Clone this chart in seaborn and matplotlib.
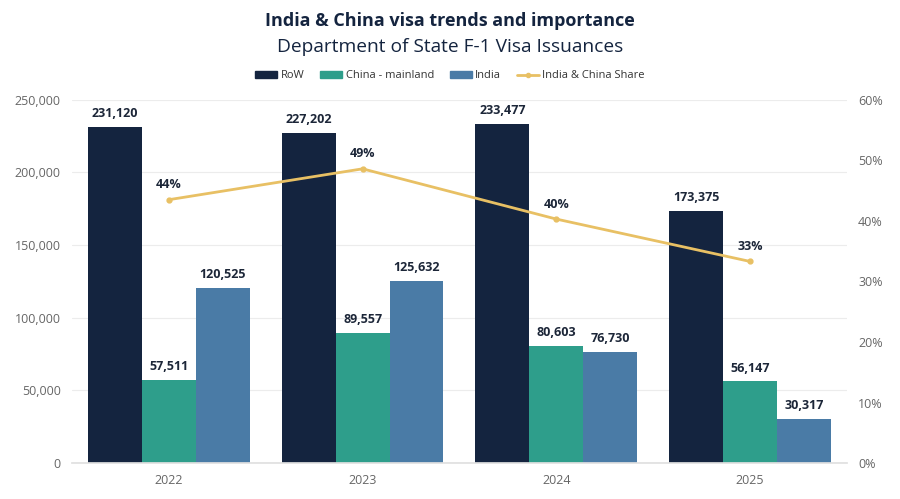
import matplotlib
matplotlib.use("Agg")
import matplotlib.pyplot as plt
import seaborn as sns
import pandas as pd
from matplotlib.ticker import FuncFormatter, FixedLocator
from matplotlib.lines import Line2D
from matplotlib.patches import Patch

years = ["2022", "2023", "2024", "2025"]
row = [231120, 227202, 233477, 173375]
china = [57511, 89557, 80603, 56147]
india = [120525, 125632, 76730, 30317]
share = [0.435, 0.486, 0.403, 0.333]
share_labels = ["44%", "49%", "40%", "33%"]
series_names = ["RoW", "China - mainland", "India"]
colors = ["#14243f", "#2e9e8b", "#4a7ba6"]
line_color = "#e8c064"

sns.set_theme(style="white")
plt.rcParams["font.family"] = ["Open Sans", "DejaVu Sans"]

df = pd.DataFrame({
    "year": years * 3,
    "series": [s for s in series_names for _ in years],
    "value": row + china + india,
})

fig = plt.figure(figsize=(9, 4.99), dpi=100)
ax = fig.add_axes([0.08, 0.072, 0.861, 0.728])
sns.barplot(data=df, x="year", y="value", hue="series", hue_order=series_names,
            palette=colors, width=0.835, gap=0, ax=ax, legend=False, saturation=1,
            errorbar=None, linewidth=0)
ax.set_xlim(-0.5, 3.5)
ax.set_ylim(0, 250000)
ax.yaxis.set_major_locator(FixedLocator([0, 50000, 100000, 150000, 200000, 250000]))
ax.yaxis.set_major_formatter(FuncFormatter(lambda v, p: f"{int(v):,}"))
ax.grid(axis="y", color="#ececec", linewidth=0.8)
ax.set_axisbelow(True)
for s in ax.spines.values():
    s.set_visible(False)
ax.spines["bottom"].set_visible(True)
ax.spines["bottom"].set_color("#e0e0e0")
ax.set_xlabel("")
ax.set_ylabel("")
ax.tick_params(axis="both", length=0, labelsize=9, colors="#666666", pad=8)

for cont in ax.containers:
    ax.bar_label(cont, labels=[f"{int(v):,}" for v in cont.datavalues], padding=5,
                 fontsize=9, fontweight="bold", color="#1c2638")

ax2 = ax.twinx()
ax2.plot(range(len(years)), share, color=line_color, linewidth=2, marker="o",
         markersize=3.5)
ax2.set_ylim(0, 0.6)
ax2.yaxis.set_major_locator(FixedLocator([0, 0.1, 0.2, 0.3, 0.4, 0.5, 0.6]))
ax2.yaxis.set_major_formatter(FuncFormatter(lambda v, p: f"{v*100:.0f}%"))
ax2.tick_params(axis="y", length=0, labelsize=9, colors="#666666", pad=8)
for s in ax2.spines.values():
    s.set_visible(False)
ax2.grid(False)
for i, (v, lab) in enumerate(zip(share, share_labels)):
    ax2.annotate(lab, (i, v), xytext=(0, 6), textcoords="offset points",
                 ha="center", va="bottom", fontsize=9, fontweight="bold",
                 color="#1c2638")

fig.text(0.5, 0.958, "India & China visa trends and importance", ha="center",
         va="center", fontsize=13, fontweight="bold", color="#14243f")
fig.text(0.5, 0.905, "Department of State F-1 Visa Issuances", ha="center",
         va="center", fontsize=13.8, color="#14243f")

handles = [Patch(color=c, label=n) for c, n in zip(colors, series_names)]
handles.append(Line2D([0], [0], color=line_color, marker="o", markersize=3,
                      linewidth=2, label="India & China Share"))
fig.legend(handles=handles, loc="center", bbox_to_anchor=(0.5, 0.848), ncol=4,
           frameon=False, fontsize=8, handlelength=2.0, handleheight=0.5,
           columnspacing=1.4, handletextpad=0.3, labelcolor="#333333")

fig.savefig("out.png", dpi=100)
